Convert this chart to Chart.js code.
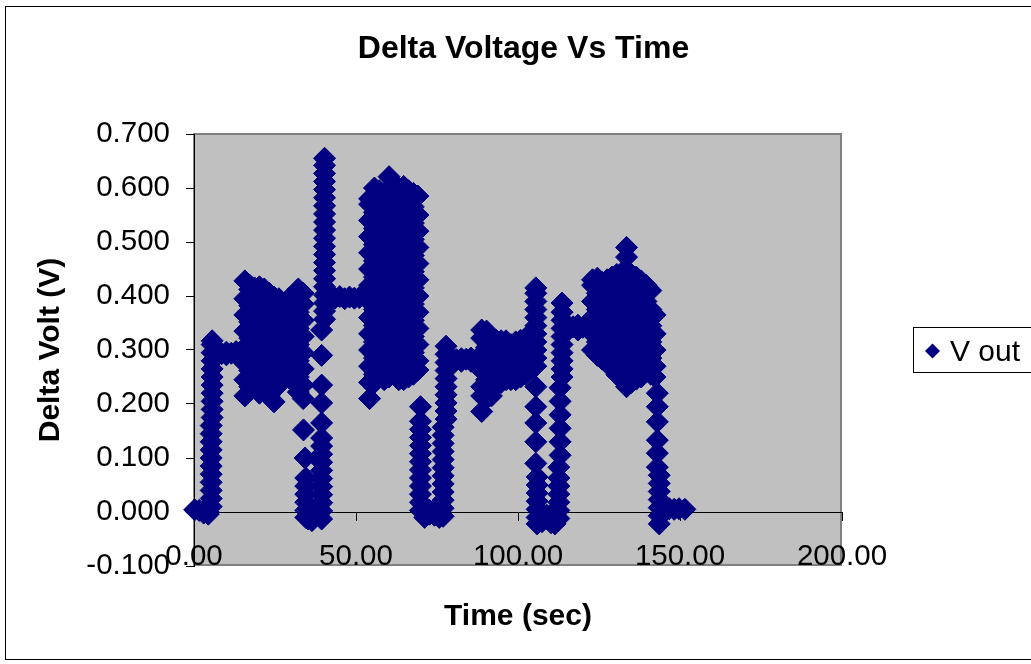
<!DOCTYPE html>
<html>
<head>
<meta charset="utf-8">
<title>Delta Voltage Vs Time</title>
<script src="https://cdn.jsdelivr.net/npm/chart.js"></script>
<style>
  html, body { margin: 0; padding: 0; background: #fff; overflow: hidden; }
  canvas { display: block; }
</style>
</head>
<body>
<canvas id="voltChart" width="1031" height="664"></canvas>
<script>
// sample bursts: each time has the readings logged around it
const timeSec = [
  0.2, 1.6, 3.0, 4.4, 5.3, 5.6,
  7.0, 8.5, 10.0, 11.5, 13.0, 14.3,
  15.7, 17.2, 18.7, 20.2, 21.7, 23.2, 24.7, 26.2, 27.7, 29.2, 30.7, 32.2, 33.7,
  33.8, 34.3, 34.5, 35.2, 36.4,
  39.4, 40.3,
  42.0, 43.5, 45.0, 46.5, 48.0, 49.5, 51.0, 52.5,
  54.2, 55.7, 57.2, 58.7, 60.2, 61.7, 63.2, 64.7, 66.2, 67.7, 69.1,
  69.9, 71.2, 72.7, 74.2, 75.7,
  76.9, 77.8,
  79.5, 81.0, 82.5, 84.0, 85.5, 87.0,
  88.8, 90.3, 91.8, 93.3, 94.8, 96.3, 97.8, 99.3, 100.8, 102.3, 103.8,
  105.5, 105.9, 107.4, 108.9, 110.2, 111.4,
  112.6, 113.0, 113.6,
  115.5, 117.0, 118.5, 120.0, 121.5,
  123.0, 124.5, 126.0, 127.5, 129.0, 130.5, 132.0, 133.5, 135.0, 136.5, 138.0, 139.5, 141.0, 142.3,
  143.0, 143.6,
  145.2, 146.7, 148.2, 149.7, 151.5
];

const voltOut = [
  // idle, then first step up
  [0.004], [0.003], [0.002, -0.002], [0.0, -0.004],
  [0.01, 0.025, 0.04, 0.055, 0.07, 0.085, 0.1, 0.115, 0.13, 0.145, 0.16],
  [0.175, 0.19, 0.205, 0.22, 0.235, 0.25, 0.265, 0.28, 0.295, 0.31, 0.317],
  [0.29, 0.297], [0.293], [0.296, 0.291], [0.294], [0.292, 0.297], [0.295],
  // first noisy run
  [0.215, 0.245, 0.275, 0.305, 0.335, 0.365, 0.395, 0.428],
  [0.232, 0.262, 0.292, 0.322, 0.352, 0.382, 0.412, 0.42],
  [0.24, 0.27, 0.3, 0.33, 0.36, 0.39, 0.415],
  [0.22, 0.25, 0.28, 0.31, 0.34, 0.37, 0.4, 0.417],
  [0.225, 0.237, 0.267, 0.297, 0.327, 0.357, 0.387, 0.413],
  [0.215, 0.245, 0.275, 0.305, 0.335, 0.365, 0.395, 0.405],
  [0.204, 0.232, 0.262, 0.292, 0.322, 0.352, 0.382, 0.398],
  [0.235, 0.25, 0.28, 0.31, 0.34, 0.37, 0.395],
  [0.245, 0.265, 0.295, 0.325, 0.355, 0.387],
  [0.25, 0.28, 0.31, 0.34, 0.37, 0.395],
  [0.24, 0.265, 0.295, 0.325, 0.355, 0.385, 0.4],
  [0.222, 0.25, 0.28, 0.31, 0.34, 0.37, 0.4, 0.413],
  [0.21, 0.235, 0.265, 0.295, 0.325, 0.355, 0.385, 0.405],
  // drop to zero
  [0.152], [0.1], [0.063, 0.048, 0.033, 0.018, 0.003, -0.01], [-0.013, 0.0], [-0.016, -0.004],
  // spike up
  [-0.013, 0.002, 0.017, 0.032, 0.047, 0.062, 0.077, 0.092, 0.107, 0.122, 0.137, 0.165, 0.202, 0.235, 0.29, 0.337],
  [0.357, 0.372, 0.387, 0.402, 0.417, 0.432, 0.447, 0.462, 0.477, 0.492, 0.507, 0.522, 0.537, 0.552, 0.567, 0.582, 0.597, 0.612, 0.627, 0.642, 0.655],
  [0.398, 0.392], [0.396], [0.399], [0.395], [0.398], [0.396], [0.397], [0.399],
  // second noisy run
  [0.21, 0.24, 0.27, 0.3, 0.33, 0.36, 0.39, 0.42, 0.45, 0.48, 0.51, 0.54, 0.57, 0.58],
  [0.24, 0.255, 0.285, 0.315, 0.345, 0.375, 0.405, 0.435, 0.465, 0.495, 0.525, 0.555, 0.585, 0.6],
  [0.25, 0.28, 0.31, 0.34, 0.37, 0.4, 0.43, 0.46, 0.49, 0.52, 0.55, 0.58, 0.595],
  [0.245, 0.265, 0.295, 0.325, 0.355, 0.385, 0.415, 0.445, 0.475, 0.505, 0.535, 0.565, 0.59],
  [0.25, 0.28, 0.31, 0.34, 0.37, 0.4, 0.43, 0.46, 0.49, 0.52, 0.55, 0.58, 0.591, 0.621],
  [0.255, 0.265, 0.295, 0.325, 0.355, 0.385, 0.415, 0.445, 0.475, 0.505, 0.535, 0.565, 0.59],
  [0.245, 0.27, 0.3, 0.33, 0.36, 0.39, 0.42, 0.45, 0.48, 0.51, 0.54, 0.57, 0.6],
  [0.245, 0.255, 0.285, 0.315, 0.345, 0.375, 0.405, 0.435, 0.465, 0.495, 0.525, 0.555, 0.585, 0.603],
  [0.25, 0.28, 0.31, 0.34, 0.37, 0.4, 0.43, 0.46, 0.49, 0.52, 0.55, 0.58, 0.595],
  [0.255, 0.265, 0.295, 0.325, 0.355, 0.385, 0.415, 0.445, 0.475, 0.505, 0.535, 0.565, 0.59],
  [0.263, 0.28, 0.31, 0.34, 0.37, 0.4, 0.43, 0.46, 0.49, 0.52, 0.55, 0.585],
  // drop to zero
  [0.195, 0.168, 0.153, 0.138, 0.123, 0.108, 0.093, 0.078, 0.063, 0.048, 0.033, 0.018, 0.003],
  [-0.01, 0.004], [0.003, -0.004], [-0.006, 0.002], [-0.01, 0.0],
  [-0.008, 0.007, 0.022, 0.037, 0.052, 0.067, 0.082, 0.097, 0.112, 0.127, 0.142, 0.157],
  [0.172, 0.187, 0.202, 0.217, 0.232, 0.247, 0.262, 0.277, 0.292, 0.307],
  [0.285, 0.278], [0.282], [0.284, 0.279], [0.283], [0.285, 0.279], [0.282],
  // third noisy run
  [0.186, 0.215, 0.232, 0.262, 0.292, 0.322, 0.337],
  [0.21, 0.245, 0.275, 0.305, 0.335],
  [0.215, 0.23, 0.26, 0.29, 0.32, 0.325],
  [0.235, 0.245, 0.275, 0.305, 0.318],
  [0.24, 0.26, 0.29, 0.317],
  [0.245, 0.275, 0.305, 0.317],
  [0.245, 0.26, 0.29, 0.31],
  [0.245, 0.275, 0.305, 0.315],
  [0.25, 0.26, 0.29, 0.318],
  [0.255, 0.275, 0.305, 0.322],
  [0.265, 0.29, 0.325],
  [0.27, 0.285, 0.3, 0.315, 0.33, 0.345, 0.36, 0.375, 0.39, 0.405, 0.415, 0.232, 0.195, 0.165, 0.13, 0.09],
  [0.065, 0.05, 0.035, 0.02, 0.005, -0.01, -0.022],
  [-0.018, -0.005], [-0.013, -0.006], [-0.02, -0.005], [-0.022],
  [-0.012, 0.003, 0.018, 0.033, 0.048, 0.063, 0.083],
  [0.105, 0.13, 0.155, 0.18, 0.205, 0.23],
  [0.25, 0.265, 0.28, 0.295, 0.31, 0.325, 0.34, 0.355, 0.37, 0.387],
  [0.345, 0.338], [0.343], [0.346, 0.337], [0.342], [0.344],
  // fourth noisy run
  [0.3, 0.33, 0.36, 0.39, 0.42, 0.43],
  [0.29, 0.315, 0.345, 0.375, 0.405, 0.433],
  [0.283, 0.3, 0.33, 0.36, 0.39, 0.425],
  [0.275, 0.305, 0.335, 0.365, 0.395, 0.43],
  [0.27, 0.29, 0.32, 0.35, 0.38, 0.41, 0.435],
  [0.254, 0.275, 0.305, 0.335, 0.365, 0.395, 0.425, 0.44],
  [0.245, 0.26, 0.29, 0.32, 0.35, 0.38, 0.41, 0.443],
  [0.232, 0.26, 0.29, 0.32, 0.35, 0.38, 0.41, 0.443, 0.472, 0.49],
  [0.24, 0.27, 0.3, 0.33, 0.36, 0.39, 0.42, 0.44],
  [0.246, 0.255, 0.285, 0.315, 0.345, 0.375, 0.405, 0.435],
  [0.25, 0.28, 0.31, 0.34, 0.37, 0.4, 0.428],
  [0.26, 0.27, 0.3, 0.33, 0.36, 0.39, 0.42],
  [0.255, 0.285, 0.315, 0.345, 0.375, 0.41],
  [0.25, 0.27, 0.3, 0.33, 0.365],
  // back to idle
  [0.22, 0.195, 0.167, 0.133, 0.109, 0.083],
  [0.068, 0.053, 0.038, 0.023, 0.008, -0.007, -0.022],
  [0.006, 0.0], [0.006], [0.005], [0.006], [0.005]
];

const timeTicks = [0, 50, 100, 150, 200];
const voltTicks = [-0.1, 0, 0.1, 0.2, 0.3, 0.4, 0.5, 0.6, 0.7];
const seriesName = 'V out';

const navy = '#000080';
const fontFamily = '"Liberation Sans", Arial, sans-serif';

Chart.defaults.font.family = fontFamily;
Chart.defaults.color = '#000';

const points = [];
timeSec.forEach((t, i) => {
    voltOut[i].forEach(v => points.push({ x: t, y: v }));
});

// grey plot area, outer frame and the boxed legend at the right
const excelFrame = {
    id: 'excelFrame',
    beforeDraw(chart) {
        const { ctx, chartArea: a } = chart;
        ctx.save();
        ctx.fillStyle = '#fff';
        ctx.fillRect(0, 0, chart.width, chart.height);
        ctx.strokeStyle = '#000';
        ctx.lineWidth = 1;
        ctx.strokeRect(5.5, 6.5, chart.width + 20, 653);
        ctx.fillStyle = '#c0c0c0';
        ctx.fillRect(a.left, a.top, a.right - a.left, a.bottom - a.top);
        ctx.strokeStyle = '#808080';
        ctx.lineWidth = 2;
        ctx.strokeRect(a.left, a.top, a.right - a.left - 1, a.bottom - a.top - 1);
        ctx.restore();
    },
    afterDraw(chart) {
        const ctx = chart.ctx;
        const ds = chart.data.datasets[0];
        ctx.save();
        ctx.fillStyle = '#fff';
        ctx.fillRect(913.5, 327.5, 200, 45);
        ctx.strokeStyle = '#000';
        ctx.lineWidth = 1;
        ctx.strokeRect(913.5, 327.5, 200, 45);
        const cx = 932.5, cy = 351, r = 7.5;
        ctx.beginPath();
        ctx.moveTo(cx - r, cy);
        ctx.lineTo(cx, cy - r);
        ctx.lineTo(cx + r, cy);
        ctx.lineTo(cx, cy + r);
        ctx.closePath();
        ctx.fillStyle = ds.backgroundColor;
        ctx.fill();
        ctx.fillStyle = '#000';
        ctx.font = '30px ' + fontFamily;
        ctx.textBaseline = 'alphabetic';
        ctx.textAlign = 'left';
        ctx.fillText(ds.label, 950, 361);
        ctx.restore();
    }
};

new Chart(document.getElementById('voltChart').getContext('2d'), {
    type: 'scatter',
    data: {
        datasets: [{
            label: seriesName,
            data: points,
            backgroundColor: navy,
            borderColor: navy,
            borderWidth: 1,
            pointStyle: 'rectRot',
            pointRadius: 11,
            pointHoverRadius: 11,
            showLine: false,
            clip: false
        }]
    },
    options: {
        responsive: false,
        animation: false,
        devicePixelRatio: 1,
        events: [],
        layout: { padding: { left: 16, right: 0, top: 0, bottom: 0 } },
        plugins: {
            legend: { display: false },
            tooltip: { enabled: false },
            title: {
                display: true,
                text: 'Delta Voltage Vs Time',
                color: '#000',
                font: { size: 32, weight: 'bold' },
                padding: { top: 30, bottom: 65.6 }
            }
        },
        scales: {
            x: {
                type: 'linear',
                position: { y: 0 },
                min: 0,
                max: 200,
                afterBuildTicks: s => { s.ticks = timeTicks.map(v => ({ value: v })); },
                ticks: {
                    callback: v => Number(v).toFixed(2),
                    font: { size: 29.5 },
                    padding: 19,
                    maxRotation: 0,
                    autoSkip: false
                },
                grid: { display: true, drawOnChartArea: false, drawTicks: true, tickLength: 8, color: '#000' },
                border: { display: true, color: '#000', width: 1 }
            },
            xTitle: {
                axis: 'x',
                type: 'linear',
                position: 'bottom',
                min: 0,
                max: 200,
                ticks: { display: false },
                grid: { display: false },
                border: { display: false },
                title: {
                    display: true,
                    text: 'Time (sec)',
                    font: { size: 30, weight: 'bold' },
                    padding: { top: 0, bottom: 29 }
                },
                afterFit: s => { s.height = 98; }
            },
            y: {
                type: 'linear',
                position: 'left',
                min: -0.1,
                max: 0.7,
                afterBuildTicks: s => { s.ticks = voltTicks.map(v => ({ value: v })); },
                afterFit: s => { s.width = 178; },
                ticks: {
                    callback: v => Number(v).toFixed(3),
                    font: { size: 29.5 },
                    padding: 16,
                    autoSkip: false
                },
                grid: { display: true, drawOnChartArea: false, drawTicks: true, tickLength: 8, color: '#000' },
                border: { display: true, color: '#000', width: 1 },
                title: {
                    display: true,
                    text: 'Delta Volt (V)',
                    font: { size: 30, weight: 'bold' },
                    padding: { top: 17, bottom: 0 }
                }
            },
            legendGap: {
                axis: 'y',
                type: 'linear',
                position: 'right',
                ticks: { display: false },
                grid: { display: false },
                border: { display: false },
                afterFit: s => { s.width = 189; }
            }
        }
    },
    plugins: [excelFrame]
});
</script>
</body>
</html>
